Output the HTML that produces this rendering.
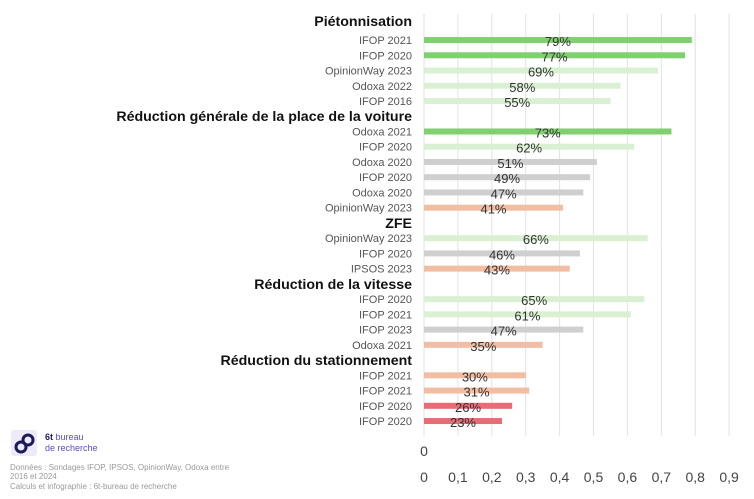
<!DOCTYPE html>
<html><head><meta charset="utf-8">
<style>
body{margin:0;background:#fff;width:754px;height:494px;overflow:hidden;font-family:"Liberation Sans",sans-serif;}
svg text{font-family:"Liberation Sans",sans-serif;}
</style></head>
<body>
<svg width="754" height="494">
<g id="grid"></g>
<g id="rows"></g>
<g id="axis"></g>
<g>
<rect x="11" y="430" width="26" height="26" rx="3" fill="#ecebf7"/>
<circle cx="21" cy="447" r="5" fill="none" stroke="#1d1a5a" stroke-width="3"/>
<circle cx="28" cy="440" r="5" fill="none" stroke="#1d1a5a" stroke-width="3"/>
<text x="45" y="440" font-size="9" fill="#1d1a5a" font-weight="bold">6t <tspan fill="#5a4fc8" font-weight="normal">bureau</tspan></text>
<text x="45" y="451" font-size="9" fill="#5a4fc8">de recherche</text>
</g>
<g font-size="8" fill="#999">
<text x="10" y="470">Données : Sondages IFOP, IPSOS, OpinionWay, Odoxa entre</text>
<text x="10" y="479">2016 et 2024</text>
<text x="10" y="489">Calculs et infographie : 6t-bureau de recherche</text>
</g>
</svg>
<script>
const labels=["Piétonnisation","IFOP 2021","IFOP 2020","OpinionWay 2023","Odoxa 2022","IFOP 2016","Réduction générale de la place de la voiture","Odoxa 2021","IFOP 2020","Odoxa 2020","IFOP 2020","Odoxa 2020","OpinionWay 2023","ZFE","OpinionWay 2023","IFOP 2020","IPSOS 2023","Réduction de la vitesse","IFOP 2020","IFOP 2021","IFOP 2023","Odoxa 2021","Réduction du stationnement","IFOP 2021","IFOP 2021","IFOP 2020","IFOP 2020"];
const values=[null,0.79,0.77,0.69,0.58,0.55,null,0.73,0.62,0.51,0.49,0.47,0.41,null,0.66,0.46,0.43,null,0.65,0.61,0.47,0.35,null,0.30,0.31,0.26,0.23];
const cats=[null,"g","g","lg","lg","lg",null,"g","lg","n","n","n","s",null,"lg","n","s",null,"lg","lg","n","s",null,"s","s","r","r"];
const ticks=[0,0.1,0.2,0.3,0.4,0.5,0.6,0.7,0.8,0.9];
const tickLabels=["0","0,1","0,2","0,3","0,4","0,5","0,6","0,7","0,8","0,9"];
const colors={g:"#80d070",lg:"#daf0d2",n:"#cfcfcf",s:"#f1bea4",r:"#ea6a75"};
const NS="http://www.w3.org/2000/svg";
const x=v=>424+v*339;
const y=i=>24.8+i*15.24;
function mk(t,a,p){const e=document.createElementNS(NS,t);for(const k in a)e.setAttribute(k,a[k]);p.appendChild(e);return e;}
const grid=document.getElementById('grid'),rows=document.getElementById('rows'),axis=document.getElementById('axis');
ticks.forEach((t,i)=>{
 const l=mk('line',{x1:x(t),x2:x(t),y1:14,y2:436,stroke:'#e2e2e2','stroke-width':1},grid);
 
 
 const tx=mk('text',{x:x(t),y:482,'text-anchor':'middle','font-size':14,fill:'#444'},axis);
 tx.textContent=tickLabels[i];
 
 
});
const z=mk('text',{x:x(0),y:456,'text-anchor':'middle','font-size':14,fill:'#444'},axis);z.textContent="0";


labels.forEach((lb,i)=>{
 const yy=y(i);
 if(values[i]===null){
  const h=mk('text',{x:412,y:(i===0?21:yy)+5,'text-anchor':'end','font-size':14.2,'font-weight':'bold',fill:'#111'},rows);
  h.textContent=lb;
  
  
  return;
 }
 const c=mk('text',{x:412,y:yy+4,'text-anchor':'end','font-size':11,fill:'#555'},rows);
 c.textContent=lb;
 
 
 const b=mk('rect',{x:x(0),y:yy-3,width:x(values[i])-x(0),height:6,fill:colors[cats[i]]},rows);
 
 
 const v=mk('text',{x:(x(0)+x(values[i]))/2,y:yy+6,'text-anchor':'middle','font-size':13,fill:'#333'},rows);
 v.textContent=Math.round(values[i]*100)+"%";
 
 
});
</script>
</body></html>
